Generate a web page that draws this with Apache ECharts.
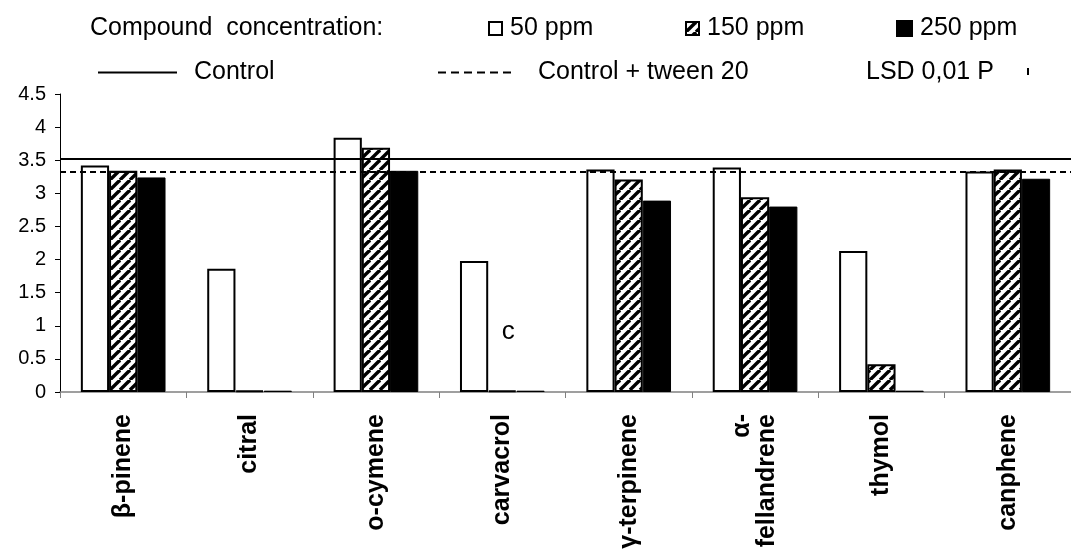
<!DOCTYPE html>
<html>
<head>
<meta charset="utf-8">
<script src="https://cdn.jsdelivr.net/npm/echarts@6/dist/echarts.min.js"></script>
<style>
html,body{margin:0;padding:0;background:#fff;}
#chart{width:1071px;height:556px;}
</style>
</head>
<body>
<div id="chart"></div>
<script>
// ---- data ----
const categories = ['β-pinene', 'citral', 'o-cymene', 'carvacrol', 'γ-terpinene', 'α-\nfellandrene', 'thymol', 'canphene'];
const ppm50  = [3.42, 1.86, 3.84, 1.98, 3.36, 3.39, 2.13, 3.33];
const ppm150 = [3.34, 0.02, 3.69, 0.02, 3.21, 2.94, 0.42, 3.36];
const ppm250 = [3.24, 0.02, 3.34, 0.02, 2.89, 2.80, 0.02, 3.22];
const controlValue = 3.52;
const tweenValue = 3.33;
const seriesNames = ['50 ppm', '150 ppm', '250 ppm'];
const lineNames = ['Control', 'Control + tween 20'];
const annotationCategory = 'carvacrol';
const annotationText = 'c';

// ---- hatch pattern ----
function makeHatch() {
  const s = 10;
  const c = document.createElement('canvas');
  c.width = s; c.height = s;
  const ctx = c.getContext('2d');
  ctx.fillStyle = '#fff';
  ctx.fillRect(0, 0, s, s);
  ctx.strokeStyle = '#000';
  ctx.lineWidth = 3.4;
  for (let k = -1; k <= 1; k++) {
    ctx.beginPath();
    ctx.moveTo(k * s, s);
    ctx.lineTo(k * s + s, 0);
    ctx.stroke();
  }
  return c;
}
const hatch = makeHatch();

const FONT = 'Liberation Sans, Arial, sans-serif';

const data150 = ppm150.map((v, i) => {
  if (categories[i] === annotationCategory) {
    return {
      value: v,
      label: {
        show: true, position: 'top', distance: 46, offset: [6, 0],
        formatter: annotationText, fontSize: 26, color: '#000', fontFamily: FONT
      }
    };
  }
  return v;
});

const chart = echarts.init(document.getElementById('chart'), null, {renderer: 'canvas'});

const legendText = (pad) => ({fontSize: 25, fontFamily: FONT, color: '#000', padding: [0, 0, 0, pad]});
const legendCommon = {
  padding: 0,
  itemWidth: 13,
  itemHeight: 13,
  selectedMode: false
};

// thin line icons for the control lines
const solidIcon = 'path://M0,0H79V2H0Z';
const dashedIcon = 'path://M0,0H8V2H0Z M13,0H21V2H13Z M26,0H34V2H26Z M39,0H47V2H39Z M52,0H60V2H52Z M65,0H73V2H65Z';

chart.setOption({
  animation: false,
  backgroundColor: '#fff',
  grid: {left: 60, top: 94, width: 1015, height: 298, containLabel: false},
  legend: [
    Object.assign({}, legendCommon, {data: [seriesNames[0]], left: 488, top: 16, icon: 'rect', textStyle: legendText(3)}),
    Object.assign({}, legendCommon, {data: [seriesNames[1]], left: 685, top: 16, icon: 'rect', textStyle: legendText(3)}),
    Object.assign({}, legendCommon, {data: [seriesNames[2]], left: 896, top: 16, icon: 'rect', itemWidth: 15, itemHeight: 15, textStyle: legendText(3)}),
    Object.assign({}, legendCommon, {data: [lineNames[0]], left: 98, top: 60, itemWidth: 79, itemHeight: 2,
      icon: solidIcon, itemStyle: {color: '#000', borderWidth: 0}, textStyle: legendText(12)}),
    Object.assign({}, legendCommon, {data: [lineNames[1]], left: 438, top: 60, itemWidth: 73, itemHeight: 2,
      icon: dashedIcon, itemStyle: {color: '#000', borderWidth: 0}, textStyle: legendText(22)})
  ],
  graphic: [
    {type: 'text', left: 90, top: 16, style: {text: 'Compound  concentration:', font: '25px ' + FONT, fill: '#000'}},
    {type: 'text', left: 866, top: 60, style: {text: 'LSD 0,01 P', font: '25px ' + FONT, fill: '#000'}},
    {type: 'rect', left: 1027, top: 68, shape: {width: 2, height: 7}, style: {fill: '#000'}}
  ],
  xAxis: {
    type: 'category',
    data: categories,
    axisLine: {show: true, lineStyle: {color: '#808080', width: 1.5}},
    axisTick: {show: true, length: 6, lineStyle: {color: '#808080'}},
    axisLabel: {rotate: 90, interval: 0, margin: 22, fontSize: 25, fontWeight: 'bold', fontFamily: FONT, color: '#000'},
    splitLine: {show: false}
  },
  yAxis: {
    type: 'value',
    min: 0, max: 4.5, interval: 0.5,
    axisLine: {show: true, lineStyle: {color: '#000', width: 1}},
    axisTick: {show: true, length: 5, lineStyle: {color: '#000'}},
    axisLabel: {fontSize: 20, fontFamily: FONT, color: '#000', margin: 14},
    splitLine: {show: false}
  },
  series: [
    {name: seriesNames[0], type: 'bar', data: ppm50, barGap: '0%', barCategoryGap: '33%',
      itemStyle: {color: '#fff', borderColor: '#000', borderWidth: 2}},
    {name: seriesNames[1], type: 'bar', data: data150,
      itemStyle: {color: {image: hatch, repeat: 'repeat'}, borderColor: '#000', borderWidth: 2}},
    {name: seriesNames[2], type: 'bar', data: ppm250,
      itemStyle: {color: '#000', borderColor: '#000', borderWidth: 1}},
    {name: lineNames[0], type: 'line', data: [], symbol: 'none',
      lineStyle: {color: '#000', width: 2, type: 'solid'}, itemStyle: {color: '#000'},
      markLine: {silent: true, symbol: ['none', 'none'], label: {show: false},
        lineStyle: {color: '#000', width: 2, type: 'solid'}, data: [{yAxis: controlValue}]}},
    {name: lineNames[1], type: 'line', data: [], symbol: 'none',
      lineStyle: {color: '#000', width: 2, type: [6, 4]}, itemStyle: {color: '#000'},
      markLine: {silent: true, symbol: ['none', 'none'], label: {show: false},
        lineStyle: {color: '#000', width: 2, type: [6, 4]}, data: [{yAxis: tweenValue}]}}
  ]
});
</script>
</body>
</html>
